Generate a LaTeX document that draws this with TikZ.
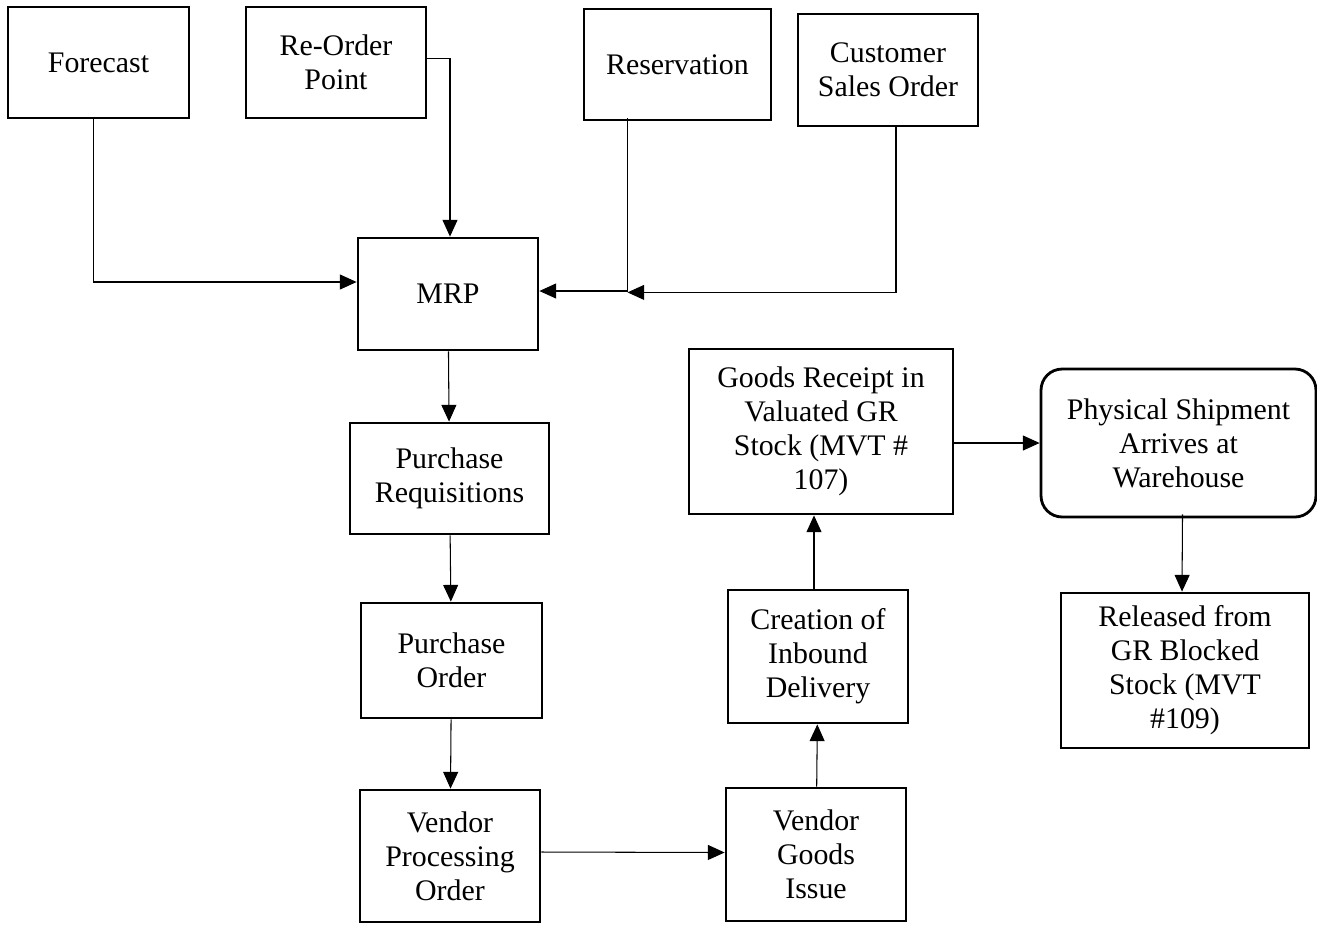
\documentclass[tikz,border=0pt]{standalone}
\usepackage{fontspec}
\setmainfont{Liberation Serif}
\usepackage{tikz}
\usetikzlibrary{positioning, arrows.meta, calc}

\begin{document}
\begin{tikzpicture}[
    x=0.02cm, y=-0.02cm,
    stepbox/.style={
      draw, line width=1.6pt, align=center, inner sep=0pt,
      font=\fontsize{17}{19.4}\selectfont, fill=white
    },
    roundbox/.style={stepbox, rounded corners=12pt},
    conn/.style={-{Triangle[length=9.5pt, width=8.5pt]}, line width=0.6pt},
]
    \useasboundingbox (0,0) rectangle (1317,924);

    % Demand sources at top
    \node[stepbox, minimum width=3.62cm, minimum height=2.22cm] (forecast) at (98.5,62.5) {Forecast};
    \node[stepbox, minimum width=3.60cm, minimum height=2.22cm] (reorder) at (336,62.5) {Re-Order\\Point};
    \node[stepbox, minimum width=3.74cm, minimum height=2.22cm] (reserv) at (677.5,64.5) {Reservation};
    \node[stepbox, minimum width=3.60cm, minimum height=2.24cm] (custorder) at (888,70) {Customer\\Sales Order};

    % Planning and purchasing chain
    \node[stepbox, minimum width=3.60cm, minimum height=2.24cm] (mrp) at (448,294) {MRP};
    \node[stepbox, minimum width=3.98cm, minimum height=2.22cm] (purreq) at (449.5,478.5) {Purchase\\Requisitions};
    \node[stepbox, minimum width=3.62cm, minimum height=2.30cm] (purord) at (451.5,660.5) {Purchase\\Order};
    \node[stepbox, minimum width=3.60cm, minimum height=2.64cm] (vendproc) at (450,856) {Vendor\\Processing\\Order};

    % Vendor side and receipt
    \node[stepbox, minimum width=3.60cm, minimum height=2.66cm] (vendgi) at (816,854.5) {Vendor\\Goods\\Issue};
    \node[stepbox, minimum width=3.60cm, minimum height=2.66cm] (inbound) at (818,656.5) {Creation of\\Inbound\\Delivery};
    \node[stepbox, minimum width=5.28cm, minimum height=3.30cm] (grstock) at (821,431.5) {Goods Receipt in\\Valuated GR\\Stock (MVT \#\\107)};
    \node[roundbox, minimum width=5.50cm, minimum height=2.96cm] (shipment) at (1178.5,443) {Physical Shipment\\Arrives at\\Warehouse};
    \node[stepbox, minimum width=4.96cm, minimum height=3.10cm] (released) at (1185,670.5) {Released from\\GR Blocked\\Stock (MVT\\\#109)};

    % Inputs into MRP
    \coordinate (merge) at ($(reserv.south)+(-50,171)$);
    \draw[conn] ($(forecast.south)+(-5,0)$) |- ($(mrp.west)+(0,-12)$);
    \draw[conn] ($(reorder.east)+(0,-4)$) -| ($(mrp.north)+(2,0)$);
    \draw[conn] ($(reserv.south)+(-50,-3)$) |- ($(mrp.east)+(0,-3)$);
    \draw[conn] ($(custorder.south)+(8,0)$) |- (merge);

    % Flow through the chain
    \draw[conn] (mrp) -- (purreq);
    \draw[conn] (purreq) -- (purord);
    \draw[conn] (purord) -- (vendproc);
    \draw[conn] ($(vendproc.east)+(0,-4)$) -- ($(vendgi.west)+(0,-2)$);
    \draw[conn] (vendgi) -- (inbound);
    \draw[conn] ($(inbound.north)+(-4,0)$) -- ($(grstock.south)+(-7,0)$);
    \draw[conn] (grstock.east |- shipment.west) -- (shipment.west);
    \draw[conn] ($(shipment.south)+(4,-4)$) -- ($(released.north)+(-3,0)$);
\end{tikzpicture}
\end{document}
